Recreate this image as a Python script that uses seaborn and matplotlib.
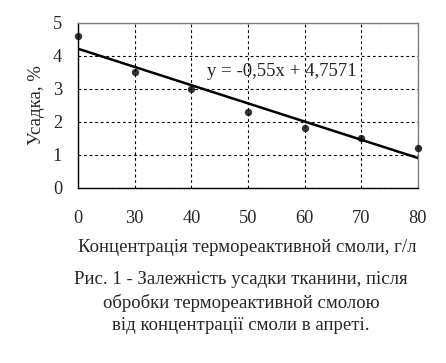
import matplotlib
matplotlib.use("Agg")
import matplotlib.pyplot as plt
import seaborn as sns
import numpy as np
import pandas as pd

categories = ["0", "30", "40", "50", "60", "70", "80"]
shrinkage = [4.6, 3.5, 3.0, 2.3, 1.8, 1.5, 1.2]
equation = "y = -0,55x + 4,7571"
y_label = "Усадка, %"
x_label = "Концентрація термореактивной смоли, г/л"
caption = ["Рис. 1 - Залежність усадки тканини, після",
           "обробки термореактивной смолою",
           "від концентрації смоли в апреті."]

sns.set_style("white")
plt.rcParams['font.family'] = ['Liberation Serif', 'DejaVu Serif']
plt.rcParams['font.size'] = 13

df = pd.DataFrame({"pos": np.arange(len(categories)), "val": shrinkage})

fig = plt.figure(figsize=(4.46, 3.63), dpi=100)
ax = fig.add_axes([0.175, 1 - 188 / 363, 0.762, (188 - 22.5) / 363])

sns.regplot(data=df, x="pos", y="val", ax=ax, ci=None, truncate=True,
            scatter_kws=dict(s=28, color="black", clip_on=False, zorder=5, linewidths=0),
            line_kws=dict(color="black", lw=1.8, zorder=4))

ax.set_xlim(0, len(categories) - 1)
ax.set_ylim(0, 5)
ax.set_xticks(df["pos"])
ax.set_xticklabels(categories)
ax.set_yticks(range(0, 6))
ax.tick_params(axis="x", direction="out", length=4.5, width=1, color="black", pad=11, labelsize=13.2)
ax.tick_params(axis="y", direction="out", length=4.5, width=1, color="black", pad=7, labelsize=13.2)
ax.grid(True, color="black", linestyle=(0, (2.5, 2.5)), linewidth=0.8)
ax.set_axisbelow(True)
for s in ["left", "bottom"]:
    ax.spines[s].set_color("black")
    ax.spines[s].set_linewidth(1)
for s in ["top", "right"]:
    ax.spines[s].set_color("#808080")
    ax.spines[s].set_linewidth(1)

ax.set_xlabel("")
ax.set_ylabel(y_label, fontsize=13.5)
ax.yaxis.set_label_coords(-0.097, 0.5)
ax.text(0.378, 0.705, equation, transform=ax.transAxes, fontsize=13.5, ha="left", va="center")

fig.text(0.555, 1 - 247 / 363, x_label, ha="center", va="center", fontsize=13.5)
for i, line in enumerate(caption):
    fig.text(0.54, 1 - (280 + i * 22.5) / 363, line, ha="center", va="center", fontsize=13.5)

fig.savefig("out.png", dpi=100)
